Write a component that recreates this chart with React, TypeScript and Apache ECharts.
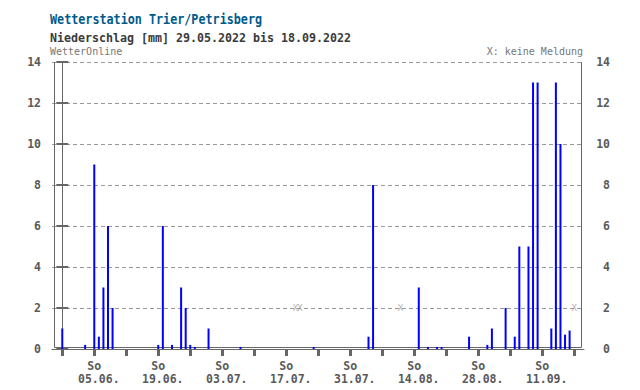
import React, { useEffect, useRef } from "react";
import * as echarts from "echarts";

const titleText = "Wetterstation Trier/Petrisberg";
const subtitleText = "Niederschlag [mm] 29.05.2022 bis 18.09.2022";
const sourceText = "WetterOnline";
const noteText = "X: keine Meldung";

const startDate = "29.05.";
const endDate = "18.09.";
const year = 2022;

const rainDates = [
  "29.05.", "03.06.", "05.06.", "06.06.", "07.06.", "08.06.", "09.06.",
  "19.06.", "20.06.", "22.06.", "24.06.", "25.06.", "26.06.", "27.06.", "30.06.",
  "07.07.", "23.07.",
  "04.08.", "05.08.", "15.08.", "17.08.", "19.08.", "20.08.", "26.08.", "30.08.", "31.08.",
  "03.09.", "05.09.", "06.09.", "08.09.", "09.09.", "10.09.", "13.09.", "14.09.", "15.09.", "16.09.", "17.09.",
];
const rainMm = [
  1.0, 0.2, 9, 0.6, 3, 6, 2,
  0.2, 6, 0.2, 3, 2, 0.2, 0.1, 1.0,
  0.1, 0.1,
  0.6, 8, 3, 0.1, 0.1, 0.1, 0.6, 0.2, 1.0,
  2, 0.6, 5, 5, 13, 13, 1.0, 13, 10, 0.7, 0.9,
];
const missingDates = ["19.07.", "20.07.", "11.08.", "18.09."];
const missingLevel = 2;

const tickDates = [
  "29.05.", "05.06.", "12.06.", "19.06.", "26.06.", "03.07.", "10.07.", "17.07.", "24.07.",
  "31.07.", "07.08.", "14.08.", "21.08.", "28.08.", "04.09.", "11.09.", "18.09.",
];
const labelDates = ["05.06.", "19.06.", "03.07.", "17.07.", "31.07.", "14.08.", "28.08.", "11.09."];
const weekdayLabel = "So";

const yMin = 0;
const yMax = 14;
const yStep = 2;

function dayIndex(d: string): number {
  const [dd, mm] = d.split(".").map(Number);
  const [sd, sm] = startDate.split(".").map(Number);
  const t = Date.UTC(year, mm - 1, dd);
  const s = Date.UTC(year, sm - 1, sd);
  return Math.round((t - s) / 86400000);
}

const MONO = "'DejaVu Sans Mono', 'Liberation Mono', monospace";

export default function App() {
  const ref = useRef<HTMLDivElement>(null);

  useEffect(() => {
    if (!ref.current) return;
    const chart = echarts.init(ref.current, null, { renderer: "svg" });

    const lastDay = dayIndex(endDate);
    const labelIdx = labelDates.map(dayIndex);
    const barData = rainDates.map((d, i) => [dayIndex(d), rainMm[i]]);
    const missData = missingDates.map((d) => [dayIndex(d), missingLevel]);

    const axisGray = "#666666";
    const labelGray = "#5a5a5a";
    const xMin = -2.25;
    const xMax = lastDay + 2.15;

    const labelFont = {
      color: labelGray,
      fontFamily: MONO,
      fontWeight: "bold",
      fontSize: 11.5,
    };

    chart.setOption({
      animation: false,
      backgroundColor: "#ffffff",
      grid: { left: 52, right: 56, top: 62, bottom: 41, containLabel: false },
      xAxis: [
        {
          type: "value",
          position: "bottom",
          min: xMin,
          max: xMax,
          axisLine: { show: true, lineStyle: { color: axisGray, width: 1 } },
          axisTick: {
            show: true,
            customValues: tickDates.map(dayIndex),
            length: 7,
            lineStyle: { color: axisGray, width: 3 },
          },
          axisLabel: {
            show: true,
            customValues: labelIdx,
            margin: 11,
            ...labelFont,
            formatter: () => weekdayLabel,
          },
          splitLine: { show: false },
        },
        {
          type: "value",
          position: "bottom",
          min: xMin,
          max: xMax,
          axisLine: { show: false },
          axisTick: { show: false },
          axisLabel: {
            show: true,
            customValues: labelIdx,
            margin: 24,
            padding: [0, 0, 0, 9],
            ...labelFont,
            formatter: (v: number) => {
              const k = labelIdx.indexOf(Math.round(v));
              return k >= 0 ? labelDates[k] : "";
            },
          },
          splitLine: { show: false },
        },
      ],
      yAxis: [
        {
          type: "value",
          position: "left",
          min: yMin,
          max: yMax,
          interval: yStep,
          axisLine: { show: true, lineStyle: { color: axisGray, width: 1 } },
          axisTick: { show: true, length: 6, lineStyle: { color: axisGray, width: 2 } },
          axisLabel: { margin: 11, ...labelFont },
          splitLine: { show: true, lineStyle: { color: "#999999", type: [4, 3], width: 1 } },
        },
        {
          type: "value",
          position: "right",
          min: yMin,
          max: yMax,
          interval: yStep,
          axisLine: { show: true, lineStyle: { color: axisGray, width: 1 } },
          axisTick: { show: true, length: 6, lineStyle: { color: axisGray, width: 2 } },
          axisLabel: { margin: 26, align: "right", ...labelFont },
          splitLine: { show: false },
        },
      ],
      series: [
        {
          type: "bar",
          name: "Niederschlag",
          data: barData,
          barWidth: 2,
          itemStyle: { color: "#0000ff" },
          z: 3,
        },
        {
          type: "scatter",
          name: "keine Meldung",
          data: missData,
          symbolSize: 1,
          itemStyle: { color: "rgba(0,0,0,0)" },
          label: {
            show: true,
            position: "inside",
            formatter: "X",
            color: "#999999",
            fontFamily: MONO,
            fontSize: 9,
          },
          z: 4,
        },
      ],
      graphic: [
        {
          type: "polyline",
          z: 1,
          silent: true,
          shape: { points: [[54.5, 62], [54.5, 347.5], [581.5, 347.5], [581.5, 62]] },
          style: { stroke: axisGray, lineWidth: 1, fill: null },
        },
        {
          type: "text",
          x: 50,
          y: 19,
          scaleX: 0.84,
          style: {
            text: titleText,
            fill: "#005a8c",
            fontFamily: MONO,
            fontWeight: "bold",
            fontSize: 14,
            align: "left",
            verticalAlign: "middle",
          },
        },
        {
          type: "text",
          x: 50,
          y: 38,
          scaleX: 0.97,
          style: {
            text: subtitleText,
            fill: "#3a3a3a",
            fontFamily: MONO,
            fontWeight: "bold",
            fontSize: 12,
            align: "left",
            verticalAlign: "middle",
          },
        },
        {
          type: "text",
          x: 50,
          y: 51,
          style: {
            text: sourceText,
            fill: "#777777",
            fontFamily: MONO,
            fontSize: 10,
            align: "left",
            verticalAlign: "middle",
          },
        },
        {
          type: "text",
          x: 583,
          y: 51,
          style: {
            text: noteText,
            fill: "#777777",
            fontFamily: MONO,
            fontSize: 10,
            align: "right",
            verticalAlign: "middle",
          },
        },
      ],
    });

    return () => chart.dispose();
  }, []);

  return <div ref={ref} style={{ width: 640, height: 390, position: "absolute", left: 0, top: 0 }} />;
}
